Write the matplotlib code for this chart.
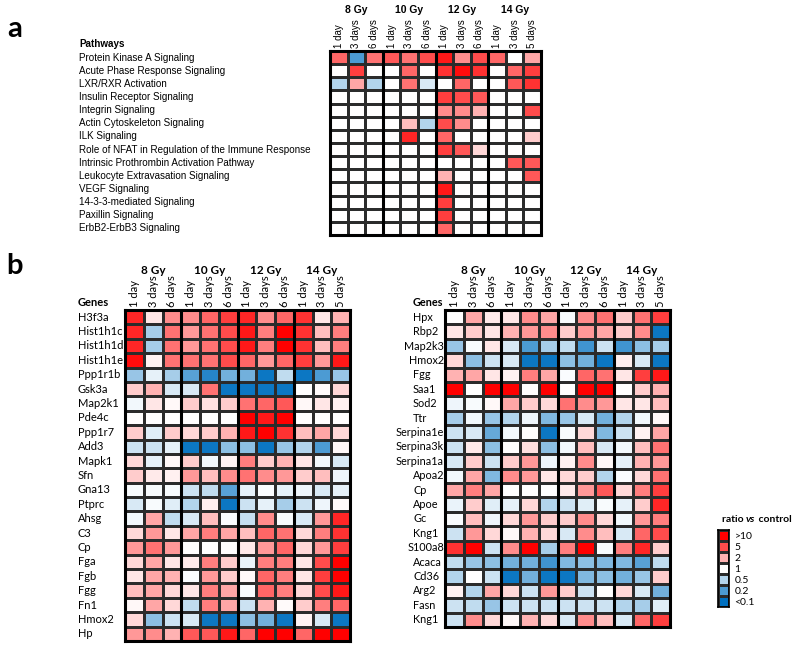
import numpy as np
import matplotlib.pyplot as plt
from matplotlib.colors import LinearSegmentedColormap
from matplotlib.transforms import blended_transform_factory

# values are log10(ratio vs control), clipped to [-1, 1]
doses = ["8 Gy", "10 Gy", "12 Gy", "14 Gy"]
times = ["1 day", "3 days", "6 days"] * 3 + ["1 day", "3 days", "5 days"]

pathways = [
    "Protein Kinase A Signaling", "Acute Phase Response Signaling", "LXR/RXR Activation",
    "Insulin Receptor Signaling", "Integrin Signaling", "Actin Cytoskeleton Signaling",
    "ILK Signaling", "Role of NFAT in Regulation of the Immune Response",
    "Intrinsic Prothrombin Activation Pathway", "Leukocyte Extravasation Signaling",
    "VEGF Signaling", "14-3-3-mediated Signaling", "Paxillin Signaling", "ErbB2-ErbB3 Signaling",
]
pathway_vals = np.array([
    [0.6, -0.7, 0.55, 0.65, 0.55, 0.7, 0.9, 0.45, 0.7, 0.6, 0.0, 0.35],
    [0, 0.75, 0, 0, 0.6, 0, 0.8, 0.95, 0.8, 0, 0.6, 0.75],
    [-0.3, 0.35, -0.3, 0, 0.55, -0.15, 0, 0.6, 0, 0, 0.65, 0.8],
    [0, 0, 0, 0, 0, 0, 0.75, 0.7, 0.65, 0, 0, 0],
    [0, 0, 0, 0, 0, 0, 0.45, 0.45, 0.3, 0, 0, 0.7],
    [0, 0, 0, 0, 0.25, -0.3, 0.7, 0.45, 0, 0, 0, 0],
    [0, 0, 0, 0, 0.85, 0, 0.6, 0, 0, 0, 0, 0.2],
    [0, 0, 0, 0, 0, 0, 0.75, 0.65, 0.15, 0, 0, 0],
    [0, 0, 0, 0, 0, 0, 0, 0, 0, 0, 0.65, 0.65],
    [0, 0, 0, 0, 0, 0, 0.3, 0, 0, 0, 0, 0.65],
    [0, 0, 0, 0, 0, 0, 0.9, 0, 0, 0, 0, 0],
    [0, 0, 0, 0, 0, 0, 0.75, 0, 0, 0, 0, 0],
    [0, 0, 0, 0, 0, 0, 0.75, 0, 0, 0, 0, 0],
    [0, 0, 0, 0, 0, 0, 0.6, 0, 0, 0, 0, 0],
])

genes_left = [
    "H3f3a", "Hist1h1c", "Hist1h1d", "Hist1h1e", "Ppp1r1b", "Gsk3a", "Map2k1", "Pde4c",
    "Ppp1r7", "Add3", "Mapk1", "Sfn", "Gna13", "Ptprc", "Ahsg", "C3", "Cp", "Fga", "Fgb",
    "Fgg", "Fn1", "Hmox2", "Hp",
]
left_vals = np.array([
    [0.85, 0.1, 0.45, 0.45, 0.6, 0.75, 0.85, 0.45, 0.6, 0.8, 0.1, 0.3],
    [0.85, -0.35, 0.55, 0.4, 0.55, 0.7, 0.9, 0.5, 1.0, 0.8, 0.25, 0.5],
    [0.85, -0.35, 0.55, 0.4, 0.55, 0.7, 0.9, 0.5, 1.0, 0.8, 0.25, 0.5],
    [0.95, 0.05, 0.55, 0.55, 0.55, 0.7, 0.6, 0.4, 0.6, 0.75, 0.4, 0.9],
    [-0.4, -0.1, -0.35, -0.65, -0.85, -0.55, -0.55, -0.95, -0.25, -0.95, -0.7, -0.4],
    [0.2, 0.3, -0.15, -0.15, 0.55, -0.95, -0.95, -0.95, -0.95, 0, 0.02, 0.15],
    [-0.05, 0.1, 0.03, 0.2, 0.12, 0.2, 0.55, 0.6, 0.65, 0.03, 0.1, 0.05],
    [0, 0, 0, 0, 0, 0, 1.0, 0.9, 1.0, 0, 0, 0],
    [0.2, -0.12, 0.2, 0.15, 0.2, 0.3, 0.9, 1.0, 0.8, 0.25, 0.35, 0.15],
    [-0.2, -0.2, -0.1, -0.95, -0.95, -0.45, -0.45, -0.95, -0.4, -0.3, -0.7, 0.03],
    [0.15, -0.1, 0.03, 0.2, -0.05, 0.05, 0.5, 0.2, 0.3, 0.1, -0.05, -0.15],
    [0.2, 0.08, 0.06, 0.4, 0.25, 0.45, 0.55, 0.45, 0.4, 0.2, 0.25, -0.07],
    [-0.03, -0.03, -0.03, -0.2, -0.25, -0.65, -0.1, -0.02, -0.1, -0.07, -0.15, -0.1],
    [-0.15, -0.03, -0.12, -0.3, 0.07, -0.95, -0.2, -0.1, -0.35, -0.2, -0.07, 0.02],
    [-0.05, 0.35, -0.25, -0.15, 0.25, -0.02, -0.22, 0.45, -0.03, -0.15, 0.4, 0.85],
    [0.15, 0.4, 0.1, 0.35, 0.5, 0.35, 0.25, 0.6, 0.55, 0.15, 0.5, 0.8],
    [0.4, 0.55, 0.4, 0, 0, 0, 0.08, 0.4, 0.6, 0.15, 0.4, 0.75],
    [0.15, 0.35, 0.1, 0.08, 0.5, 0.2, -0.08, 0.5, 0.5, 0.1, 0.7, 1.0],
    [0.1, 0.35, 0.3, -0.02, 0.4, 0.2, 0.03, 0.6, 0.5, 0.1, 0.75, 1.0],
    [0.25, 0.35, 0.15, 0.1, 0.5, 0.35, -0.02, 0.6, 0.5, 0.15, 0.7, 0.9],
    [0.03, 0.35, 0.15, -0.25, 0.5, 0.35, -0.2, 0.3, 0.02, 0.2, 0.5, 0.6],
    [0.15, -0.45, -0.2, -0.15, -0.95, -0.95, -0.45, -0.55, -0.95, 0.05, -0.15, -0.95],
    [0.4, 0.45, 0.3, 0.65, 0.65, 0.9, 0.6, 1.0, 1.0, 0.6, 1.0, 1.0],
])

genes_right = [
    "Hpx", "Rbp2", "Map2k3", "Hmox2", "Fgg", "Saa1", "Sod2", "Ttr", "Serpina1e", "Serpina3k",
    "Serpina1a", "Apoa2", "Cp", "Apoe", "Gc", "Kng1", "S100a8", "Acaca", "Cd36", "Arg2",
    "Fasn", "Kng1",
]
right_vals = np.array([
    [0.0, 0.35, 0.08, 0.1, 0.45, 0.35, -0.03, 0.45, 0.55, 0.2, 0.55, 0.75],
    [0.1, 0.2, 0.1, 0.3, 0.4, 0.45, 0.2, 0.4, 0.35, 0.2, 0.45, -0.95],
    [-0.4, -0.03, 0.1, -0.15, -0.7, -0.35, -0.25, -0.75, -0.2, -0.75, -0.45, -0.35],
    [0.15, -0.45, -0.2, -0.15, -0.95, -0.95, -0.45, -0.55, -0.95, 0.07, -0.15, -0.95],
    [0.3, 0.35, 0.1, 0.05, 0.5, 0.35, -0.02, 0.6, 0.55, 0.1, 0.75, 0.9],
    [1.0, 0, 1.0, 1.0, 0, 1.0, 0, 1.0, 1.0, 0, 0.2, 0.3],
    [-0.07, -0.03, 0.03, 0.35, 0.2, 0.15, 0.55, 0.45, 0.4, 0.1, 0.1, 0.25],
    [-0.35, -0.05, -0.4, -0.3, -0.07, -0.5, -0.4, -0.15, -0.55, -0.3, -0.05, 0.03],
    [-0.2, -0.15, -0.6, -0.05, 0.0, -0.95, -0.03, 0.15, -0.5, -0.2, 0.05, 0.35],
    [-0.2, 0.08, -0.45, 0, 0.12, -0.45, -0.05, 0.25, -0.15, -0.05, 0.25, 0.55],
    [-0.15, 0.2, -0.2, 0.2, 0.4, -0.07, 0.05, 0.45, 0.03, -0.1, 0.3, 0.4],
    [-0.05, 0.35, -0.5, 0.45, 0.4, 0.1, 0.15, 0.2, -0.3, -0.02, 0.15, 0.55],
    [0.35, 0.5, 0.35, 0, 0, 0, 0.08, 0.4, 0.65, 0.15, 0.5, 0.75],
    [-0.08, 0.2, -0.12, -0.1, 0.15, -0.3, -0.2, -0.12, -0.03, -0.1, 0.2, 0.85],
    [-0.02, 0.25, -0.07, 0.15, 0.4, 0.2, 0.2, 0.45, 0.15, -0.05, 0.4, 0.5],
    [-0.2, 0.4, 0.15, 0.03, 0.3, 0.15, -0.15, 0.45, 0.25, -0.15, 0.6, 0.7],
    [0.8, 1.0, -0.2, 0.45, 1.0, -0.35, 0.5, 1.0, -0.03, 0.5, 0.85, 0.2],
    [-0.25, -0.4, -0.45, -0.55, -0.55, -0.75, -0.5, -0.45, -0.5, -0.5, -0.65, -0.25],
    [-0.3, 0, -0.2, -0.95, -0.55, -0.95, -0.95, -0.5, -0.45, -0.55, -0.4, 0.2],
    [0.05, -0.3, 0.35, 0.15, -0.2, 0.4, 0.2, -0.2, 0, 0.15, -0.15, -0.55],
    [-0.2, -0.25, -0.4, -0.2, -0.2, -0.2, -0.2, -0.2, -0.2, -0.3, -0.35, -0.12],
    [-0.2, 0.45, 0.15, 0.03, 0.3, 0.15, -0.15, 0.45, 0.25, -0.15, 0.6, 0.75],
])

legend_vals = [1, 0.7, 0.3, 0, -0.3, -0.7, -1]
legend_labels = [">10", "5", "2", "1", "0.5", "0.2", "<0.1"]

W, H = 800, 648
cmap = LinearSegmentedColormap.from_list("rb", ["#0070C0", "#FFFFFF", "#FF0000"])
ARIAL = "Liberation Sans"
CALIBRI = "Lato"


def px_box(x0, y0, x1, y1):
    return [x0 / W, 1 - y1 / H, (x1 - x0) / W, (y1 - y0) / H]


def heat(ax, vals, rows, label_x, heat_x, title, title_y, group_y, fam, fs, col_fs, bold_fs):
    n, m = vals.shape
    ax.pcolormesh(np.arange(m + 1), np.arange(n + 1), vals, cmap=cmap, vmin=-1, vmax=1,
                  edgecolors="#2b2b2b", linewidth=0.9)
    ax.set_xlim(0, m)
    ax.set_ylim(n, 0)
    ax.set_xticks(np.arange(m) + 0.5)
    ax.set_xticklabels(times, rotation=90, fontsize=col_fs, family=fam)
    ax.xaxis.tick_top()
    ax.tick_params(length=0, pad=2)
    ax.set_yticks([])
    for x in [3, 6, 9]:
        ax.axvline(x, color="black", lw=2.2)
    for s in ax.spines.values():
        s.set_linewidth(2.2)

    # row labels start at label_x; long ones are pulled left so they stop at the grid
    tr = blended_transform_factory(fig.transFigure, ax.transData)
    for i, r in enumerate(rows):
        t = ax.text(label_x / W, i + 0.5, r, transform=tr, ha="left", va="center",
                    fontsize=fs, family=fam)
        w = t.get_window_extent(renderer).width
        if label_x + w > heat_x - 1:
            t.set_x((heat_x - 1 - w) / W)
    fig.text(label_x / W, 1 - title_y / H, title, ha="left", va="center",
             fontsize=fs, family=fam, weight="bold")

    tg = blended_transform_factory(ax.transData, fig.transFigure)
    for g, d in enumerate(doses):
        ax.text(g * 3 + 1.5, 1 - group_y / H, d, transform=tg, ha="center", va="center",
                fontsize=bold_fs, family=fam, weight="bold")


fig = plt.figure(figsize=(8, 6.48), dpi=100)
renderer = fig.canvas.get_renderer()

ax_a = fig.add_axes(px_box(330, 51, 541, 235))
heat(ax_a, pathway_vals, pathways, 79, 330, "Pathways", 44, 10, ARIAL, 7.1, 7, 7.5)

ax_b1 = fig.add_axes(px_box(125, 310, 350, 641))
heat(ax_b1, left_vals, genes_left, 78, 125, "Genes", 303, 270, CALIBRI, 8.0, 8, 8.5)

ax_b2 = fig.add_axes(px_box(445, 310, 670, 627))
heat(ax_b2, right_vals, genes_right, 413, 445, "Genes", 303, 270, CALIBRI, 7.8, 8, 8.5)

fig.text(15 / W, 1 - 29 / H, "a", fontsize=21, weight="bold", family=CALIBRI,
         ha="center", va="center")
fig.text(15 / W, 1 - 266 / H, "b", fontsize=21, weight="bold", family=CALIBRI,
         ha="center", va="center")

# legend
ax_l = fig.add_axes(px_box(718, 530, 729, 607))
ax_l.pcolormesh([0, 1], np.arange(len(legend_vals) + 1), np.array(legend_vals)[:, None],
                cmap=cmap, vmin=-1, vmax=1, edgecolors="#2b2b2b", linewidth=0.9)
ax_l.set_ylim(len(legend_vals), 0)
ax_l.set_xlim(0, 1)
ax_l.set_xticks([])
ax_l.set_yticks(np.arange(len(legend_vals)) + 0.5)
ax_l.set_yticklabels(legend_labels, fontsize=7.5, family=CALIBRI)
ax_l.yaxis.tick_right()
ax_l.tick_params(length=0, pad=4)
for s in ax_l.spines.values():
    s.set_linewidth(1.2)

x = 722
for part, style in [("ratio ", "normal"), ("vs", "italic"), (" control", "normal")]:
    t = fig.text(x / W, 1 - 519 / H, part, fontsize=7.5, weight="bold", style=style,
                 family=CALIBRI, ha="left", va="center")
    x += t.get_window_extent(renderer).width

fig.savefig("out.png", dpi=100)
